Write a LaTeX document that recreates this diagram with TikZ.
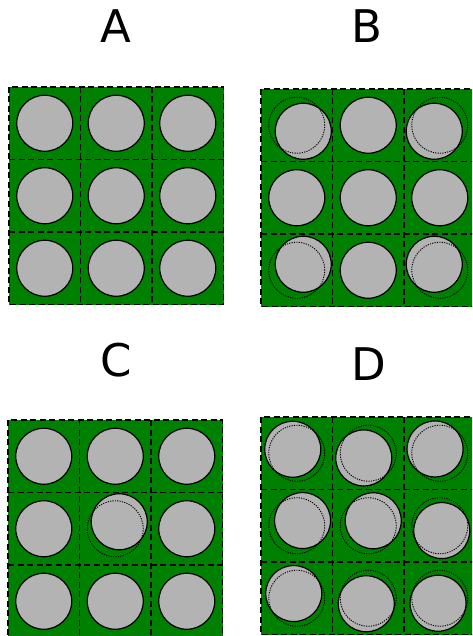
\documentclass[tikz,border=0pt]{standalone}
\usepackage{fontspec}
\usepackage{xcolor}
\usepackage{tikz}
\usetikzlibrary{positioning}
\newfontfamily\labelfont{DejaVu Sans}
\definecolor{coregreen}{HTML}{008000}
\definecolor{rodgray}{HTML}{B3B3B3}
\newcommand{\cw}{71.5}
\newcommand{\ch}{72.5}

\begin{document}
\begin{tikzpicture}[x=1pt,y=-1pt,
  rod/.style={draw=black,fill=rodgray,line width=1.2pt},
  ghost/.style={draw=black,line width=0.9pt,dash pattern=on 1.2pt off 1.2pt},
  cellgrid/.style={draw=black,line width=1.4pt,dash pattern=on 6pt off 3.5pt},
  every node/.style={font=\labelfont\fontsize{45}{50}\selectfont,inner sep=0pt,anchor=base}]
  \useasboundingbox (0,0) rectangle (472,636);
  \clip (0,0) rectangle (472,636);
  % panel labels
  \node (labA) at (116,43) {A};
  \node (labB) at (367,43) {B};
  \node (labC) at (116,376) {C};
  \node (labD) at (369,380) {D};
  % four 3x3 lattices: origin / displaced pins (column/row/dx/dy)
  \foreach \ox/\oy/\pins in {
      9/87/{0/0/0/0,1/0/0/0,2/0/0/0,0/1/0/0,1/1/0/0,2/1/0/0,0/2/0/0,1/2/0/0,2/2/0/0},
      261/89/{0/0/6.5/6,1/0/0/0,2/0/-5.5/6,0/1/0/0,1/1/0/0,2/1/0/0,0/2/6.5/-6,1/2/0/0,2/2/-5.5/-6},
      8/420/{0/0/0/0,1/0/0/0,2/0/0/0,0/1/0/0,1/1/4/-7,2/1/0/0,0/2/0/0,1/2/0/0,2/2/0/0},
      261/417/{0/0/-4/-4,1/0/-4.5/4.7,2/0/-4.7/-4.3,0/1/5.8/-5.2,1/1/5/-5,2/1/2/4.8,0/2/-3/-4.7,1/2/-2/5.5,2/2/-1.7/5}} {
    \begin{scope}[shift={(\ox,\oy)}]
      \fill[coregreen] (0,0) rectangle ({3*\cw},{3*\ch});
      \foreach \i/\j/\dx/\dy in \pins {
        \draw[rod] ({(\i+0.5)*\cw+\dx},{(\j+0.5)*\ch+\dy}) circle[radius=28pt];
        \pgfmathtruncatemacro\moved{(abs(\dx)+abs(\dy))>0}
        \ifnum\moved=1
          \draw[ghost] ({(\i+0.5)*\cw},{(\j+0.5)*\ch}) circle[radius=28pt];
        \fi
      }
      % dashed cell boundaries
      \foreach \k in {1,2} {
        \draw[cellgrid] ({\k*\cw},0) -- ({\k*\cw},{3*\ch});
        \draw[cellgrid] (0,{\k*\ch}) -- ({3*\cw},{\k*\ch});
      }
      \draw[cellgrid] (0,0) rectangle ({3*\cw},{3*\ch});
    \end{scope}
  }
\end{tikzpicture}
\end{document}
